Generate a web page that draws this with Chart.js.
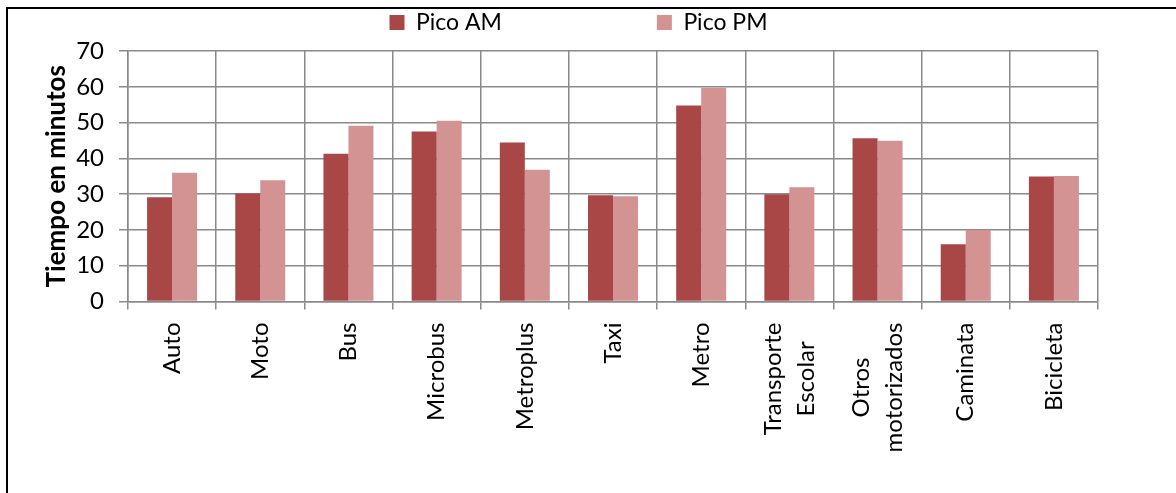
<!DOCTYPE html>
<html><head><meta charset="utf-8">
<script src="https://cdn.jsdelivr.net/npm/chart.js@4.4.1/dist/chart.umd.min.js"></script>
<style>
html,body{margin:0;padding:0;background:#fff;overflow:hidden;width:1176px;height:493px;}
#frame{position:absolute;left:6px;top:7px;width:1300px;height:600px;border-left:2px solid #000;border-top:2px solid #000;}
#wrap{position:absolute;left:0;top:0;width:1176px;height:493px;}
</style></head><body>
<div id="frame"></div>
<div id="wrap"><canvas id="c" width="1176" height="493"></canvas></div>
<script>
const categories = ['Auto','Moto','Bus','Microbus','Metroplus','Taxi','Metro',['Transporte','Escolar'],['Otros','motorizados'],'Caminata','Bicicleta'];
const picoAM = [29.1,30.2,41.3,47.5,44.4,29.7,54.8,30.0,45.6,16.0,34.9];
const picoPM = [36.0,33.9,49.1,50.5,36.8,29.4,59.7,31.9,44.9,20.0,35.1];
const seriesNames = ['Pico AM','Pico PM'];
const yMin = 0, yMax = 70, yStep = 10;
const yTitle = 'Tiempo en minutos';

const FONT = 'Lato';
const AXIS_SIZE = 24;
const GRID = '#8a8a8a';
const LEG_PAD = 155;
const X_LINE_H = 33;

const layoutTweak = {
  id: 'layoutTweak',
  beforeInit(chart) {
    const lg = chart.legend;
    const orig = lg.fit;
    lg.fit = function() { orig.call(this); this.height = 51; };
  },
  afterLayout(chart) {
    const lg = chart.legend;
    lg.top = 11 - LEG_PAD;
    lg.left = 0;
    lg.right = 1157;
  }
};

const xLabels = {
  id: 'xLabels',
  afterDraw(chart) {
    const sc = chart.scales.x;
    const ctx = chart.ctx;
    ctx.save();
    ctx.font = AXIS_SIZE + 'px ' + FONT;
    ctx.fillStyle = '#000';
    ctx.textAlign = 'center';
    ctx.textBaseline = 'middle';
    const top = sc.top + 21;
    categories.forEach((lab, i) => {
      const lines = Array.isArray(lab) ? lab : [lab];
      const maxW = Math.max(...lines.map(l => ctx.measureText(l).width));
      const cx = sc.getPixelForValue(i);
      const cy = top + maxW / 2;
      lines.forEach((ln, j) => {
        const off = (j - (lines.length - 1) / 2) * X_LINE_H;
        ctx.save();
        ctx.translate(cx + off, cy);
        ctx.rotate(-Math.PI / 2);
        ctx.fillText(ln, 0, 0);
        ctx.restore();
      });
    });
    ctx.restore();
  }
};

new Chart(document.getElementById('c'), {
  type: 'bar',
  data: {
    labels: categories,
    datasets: [
      { label: seriesNames[0], data: picoAM, backgroundColor: '#A94646', barPercentage: 1, categoryPercentage: 0.567 },
      { label: seriesNames[1], data: picoPM, backgroundColor: '#D39393', barPercentage: 1, categoryPercentage: 0.567 }
    ]
  },
  options: {
    responsive: false,
    animation: false,
    devicePixelRatio: 1,
    layout: { padding: { left: 0, right: 78, top: 0, bottom: 0 } },
    plugins: {
      tooltip: { enabled: false },
      legend: {
        position: 'top',
        labels: { font: { family: FONT, size: 23 }, color: '#000', boxWidth: 15, boxHeight: 15, padding: LEG_PAD }
      }
    },
    scales: {
      x: {
        grid: { color: GRID, lineWidth: 1.5, offset: true, tickLength: 8 },
        border: { color: GRID, width: 1.5 },
        ticks: { display: false },
        afterFit(s) { s.height = 191.5; }
      },
      y: {
        min: yMin, max: yMax,
        grid: { color: GRID, lineWidth: 1.5, tickLength: 9 },
        border: { color: GRID, width: 1.5 },
        ticks: { stepSize: yStep, font: { family: FONT, size: AXIS_SIZE }, color: '#000', padding: 15 },
        title: { display: true, text: yTitle, font: { family: FONT, size: 26, weight: 'bold' }, color: '#000', padding: { top: 41, bottom: 0 } },
        afterFit(s) { s.width = 128; }
      }
    }
  },
  plugins: [layoutTweak, xLabels]
});
</script>
</body></html>
